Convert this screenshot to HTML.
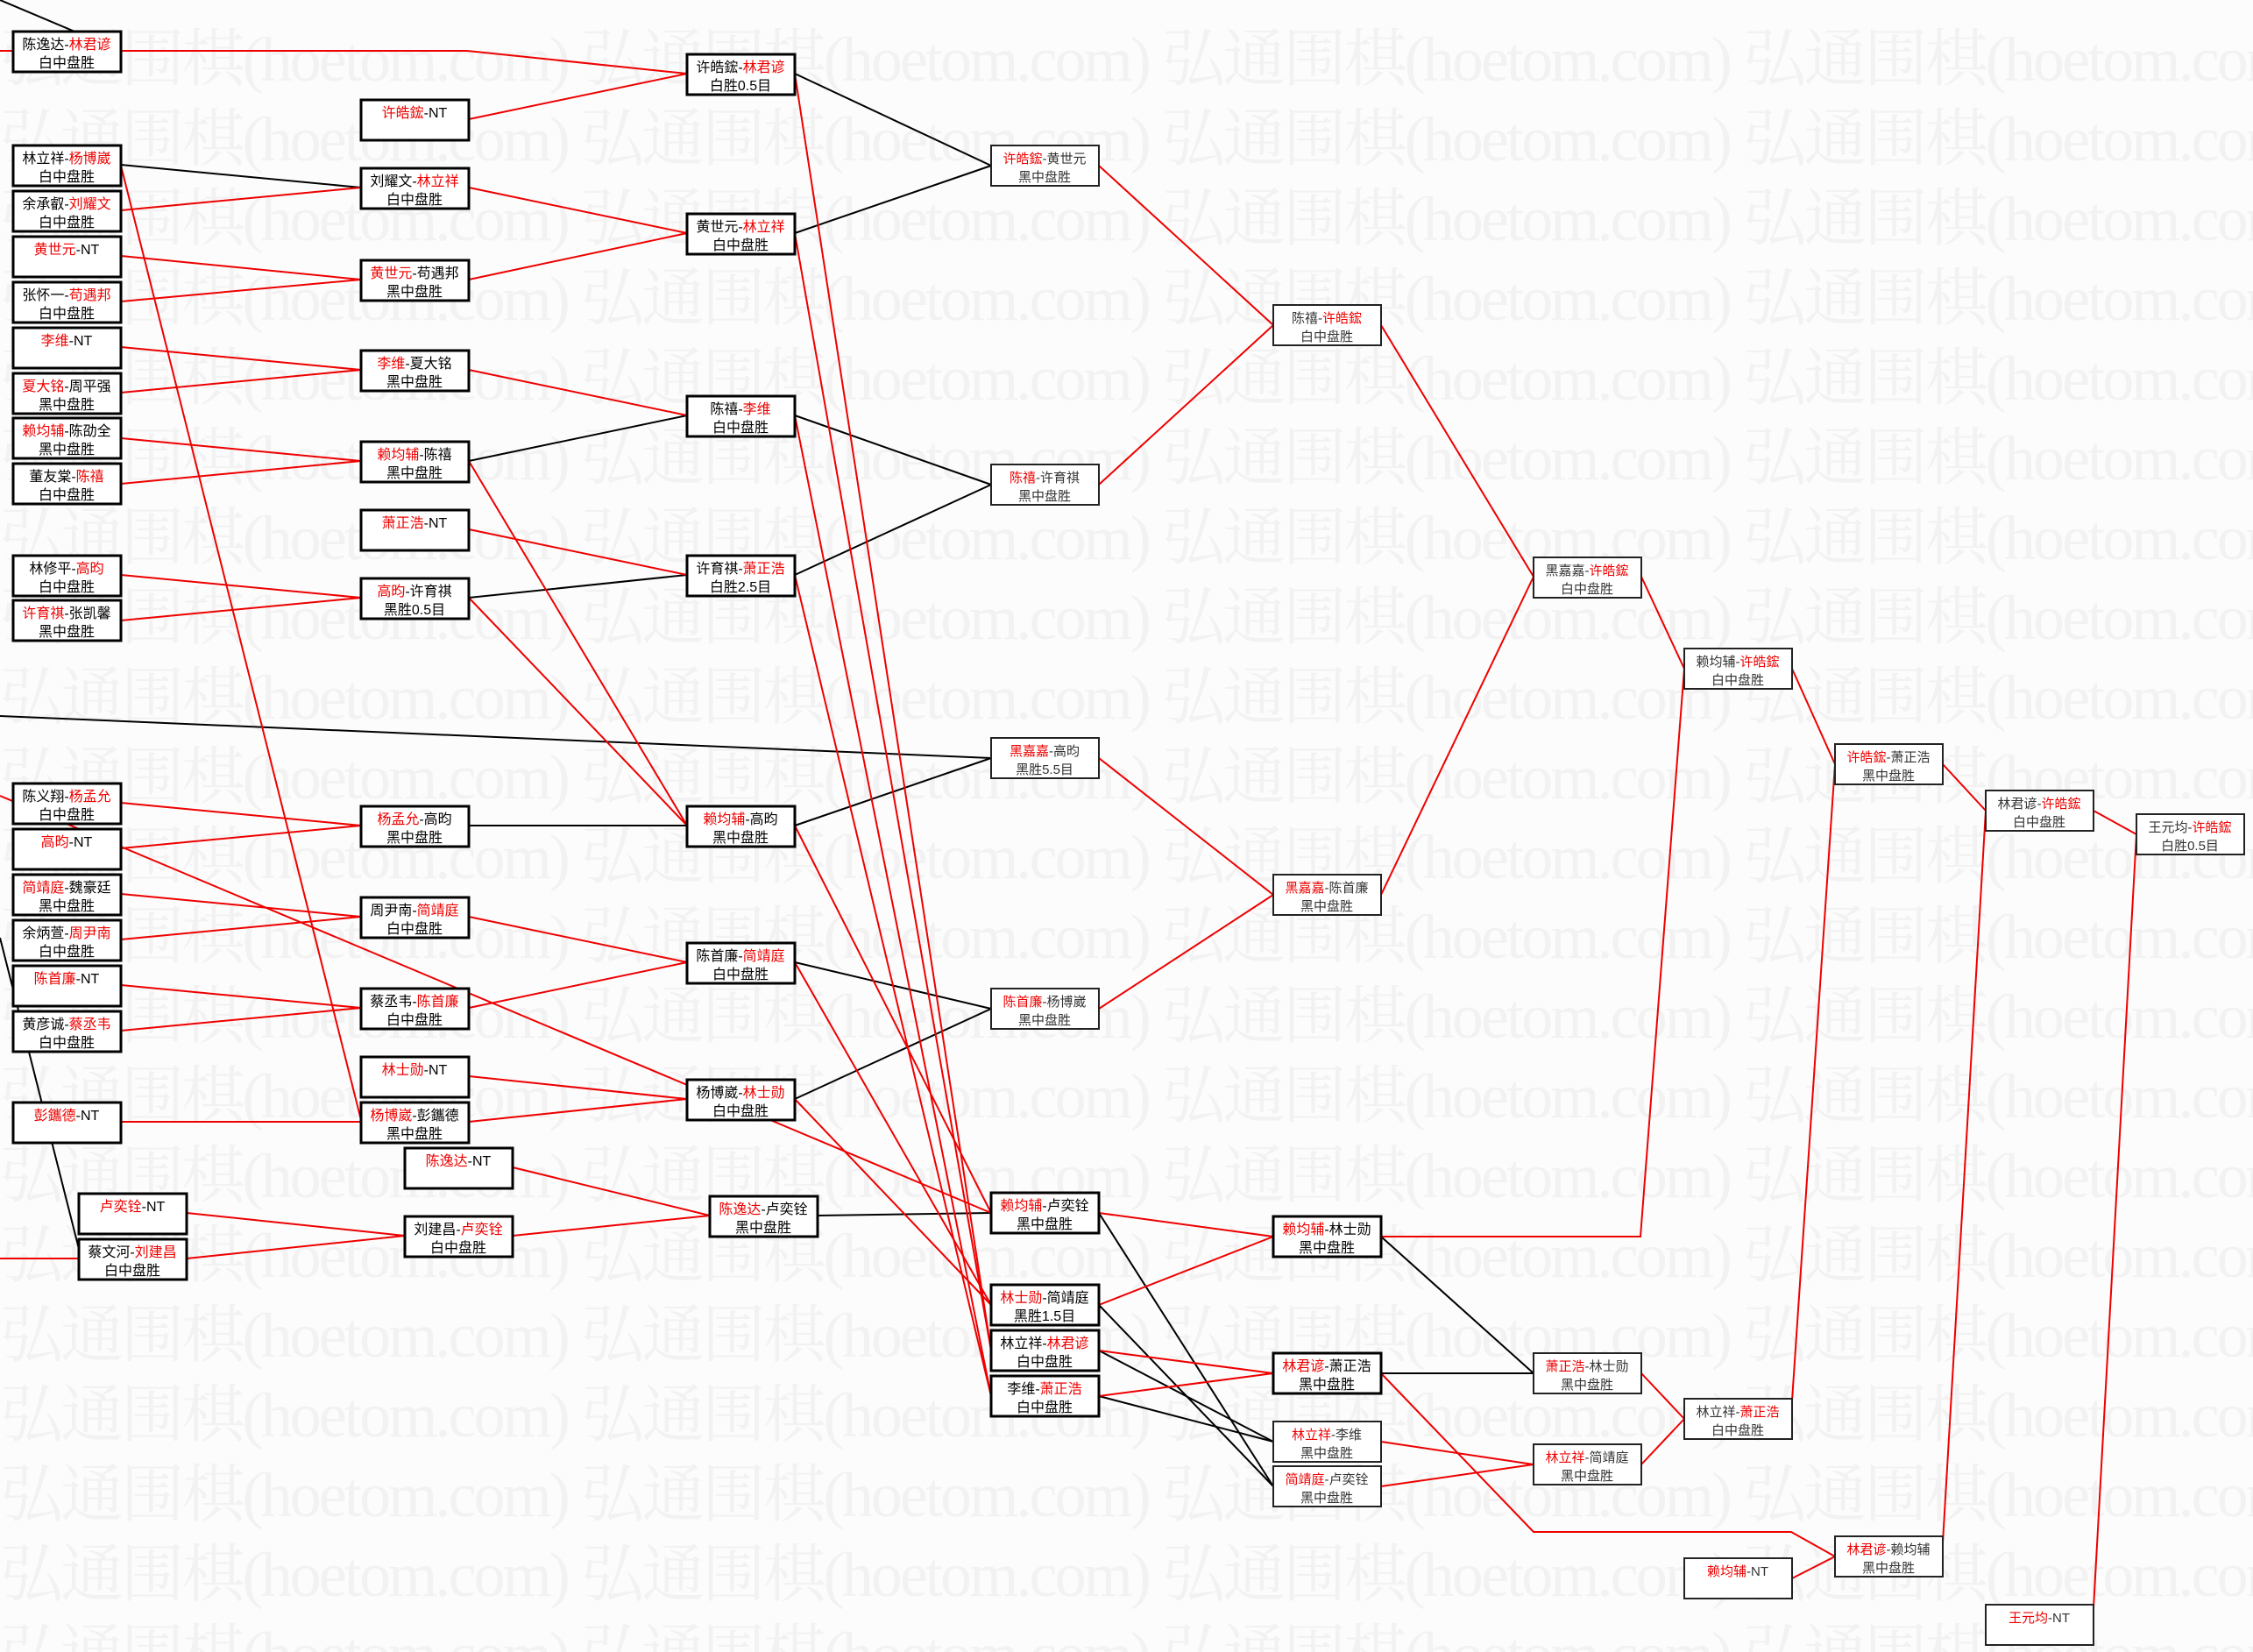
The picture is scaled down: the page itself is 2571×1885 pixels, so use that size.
<!DOCTYPE html>
<html><head><meta charset="utf-8"><style>
html,body{margin:0;padding:0;background:#fcfcfc}
svg{display:block}
.wm{font-family:"Liberation Serif","Noto Serif CJK SC",serif;font-size:72px;fill:#f2f2f2}
.b{fill:#fff;stroke:#000;stroke-width:3}
.t{fill:#fff;stroke:#222;stroke-width:2}
text.l{font-family:"Liberation Sans","Noto Sans CJK SC",sans-serif;font-size:16px;fill:#000;text-anchor:middle}
text.lt{font-family:"Liberation Sans","Noto Sans CJK SC",sans-serif;font-size:15px;fill:#333;text-anchor:middle}
.r{fill:#e00}
.k{stroke:#000;stroke-width:2;fill:none}
.rd{stroke:#e00;stroke-width:2;fill:none}
</style></head><body>
<svg xmlns="http://www.w3.org/2000/svg" width="2571" height="1885" viewBox="0 0 2571 1885">
<rect width="2571" height="1885" fill="#fcfcfc"/>
<g class="wm">
<text x="0" y="92" textLength="2640">弘通围棋(hoetom.com) 弘通围棋(hoetom.com) 弘通围棋(hoetom.com) 弘通围棋(hoetom.com)</text>
<text x="0" y="183" textLength="2640">弘通围棋(hoetom.com) 弘通围棋(hoetom.com) 弘通围棋(hoetom.com) 弘通围棋(hoetom.com)</text>
<text x="0" y="274" textLength="2640">弘通围棋(hoetom.com) 弘通围棋(hoetom.com) 弘通围棋(hoetom.com) 弘通围棋(hoetom.com)</text>
<text x="0" y="365" textLength="2640">弘通围棋(hoetom.com) 弘通围棋(hoetom.com) 弘通围棋(hoetom.com) 弘通围棋(hoetom.com)</text>
<text x="0" y="456" textLength="2640">弘通围棋(hoetom.com) 弘通围棋(hoetom.com) 弘通围棋(hoetom.com) 弘通围棋(hoetom.com)</text>
<text x="0" y="547" textLength="2640">弘通围棋(hoetom.com) 弘通围棋(hoetom.com) 弘通围棋(hoetom.com) 弘通围棋(hoetom.com)</text>
<text x="0" y="638" textLength="2640">弘通围棋(hoetom.com) 弘通围棋(hoetom.com) 弘通围棋(hoetom.com) 弘通围棋(hoetom.com)</text>
<text x="0" y="729" textLength="2640">弘通围棋(hoetom.com) 弘通围棋(hoetom.com) 弘通围棋(hoetom.com) 弘通围棋(hoetom.com)</text>
<text x="0" y="820" textLength="2640">弘通围棋(hoetom.com) 弘通围棋(hoetom.com) 弘通围棋(hoetom.com) 弘通围棋(hoetom.com)</text>
<text x="0" y="911" textLength="2640">弘通围棋(hoetom.com) 弘通围棋(hoetom.com) 弘通围棋(hoetom.com) 弘通围棋(hoetom.com)</text>
<text x="0" y="1002" textLength="2640">弘通围棋(hoetom.com) 弘通围棋(hoetom.com) 弘通围棋(hoetom.com) 弘通围棋(hoetom.com)</text>
<text x="0" y="1093" textLength="2640">弘通围棋(hoetom.com) 弘通围棋(hoetom.com) 弘通围棋(hoetom.com) 弘通围棋(hoetom.com)</text>
<text x="0" y="1184" textLength="2640">弘通围棋(hoetom.com) 弘通围棋(hoetom.com) 弘通围棋(hoetom.com) 弘通围棋(hoetom.com)</text>
<text x="0" y="1275" textLength="2640">弘通围棋(hoetom.com) 弘通围棋(hoetom.com) 弘通围棋(hoetom.com) 弘通围棋(hoetom.com)</text>
<text x="0" y="1366" textLength="2640">弘通围棋(hoetom.com) 弘通围棋(hoetom.com) 弘通围棋(hoetom.com) 弘通围棋(hoetom.com)</text>
<text x="0" y="1457" textLength="2640">弘通围棋(hoetom.com) 弘通围棋(hoetom.com) 弘通围棋(hoetom.com) 弘通围棋(hoetom.com)</text>
<text x="0" y="1548" textLength="2640">弘通围棋(hoetom.com) 弘通围棋(hoetom.com) 弘通围棋(hoetom.com) 弘通围棋(hoetom.com)</text>
<text x="0" y="1639" textLength="2640">弘通围棋(hoetom.com) 弘通围棋(hoetom.com) 弘通围棋(hoetom.com) 弘通围棋(hoetom.com)</text>
<text x="0" y="1730" textLength="2640">弘通围棋(hoetom.com) 弘通围棋(hoetom.com) 弘通围棋(hoetom.com) 弘通围棋(hoetom.com)</text>
<text x="0" y="1821" textLength="2640">弘通围棋(hoetom.com) 弘通围棋(hoetom.com) 弘通围棋(hoetom.com) 弘通围棋(hoetom.com)</text>
<text x="0" y="1912" textLength="2640">弘通围棋(hoetom.com) 弘通围棋(hoetom.com) 弘通围棋(hoetom.com) 弘通围棋(hoetom.com)</text>
</g>

<g class="k">
<line x1="0" y1="0" x2="135" y2="57"/>
<line x1="0" y1="1070" x2="90" y2="1425"/>
<line x1="0" y1="817" x2="1131" y2="865"/>
<line x1="138" y1="188" x2="412" y2="214"/>
<line x1="535" y1="526" x2="784" y2="474"/>
<line x1="535" y1="682" x2="784" y2="656"/>
<line x1="535" y1="942" x2="784" y2="942"/>
<line x1="907" y1="84" x2="1131" y2="189"/>
<line x1="907" y1="266" x2="1131" y2="189"/>
<line x1="907" y1="474" x2="1131" y2="553"/>
<line x1="907" y1="656" x2="1131" y2="553"/>
<line x1="907" y1="942" x2="1131" y2="865"/>
<line x1="907" y1="1098" x2="1131" y2="1151"/>
<line x1="907" y1="1254" x2="1131" y2="1151"/>
<line x1="933" y1="1387" x2="1131" y2="1384"/>
<line x1="1254" y1="1541" x2="1453" y2="1645"/>
<line x1="1254" y1="1593" x2="1453" y2="1645"/>
<line x1="1254" y1="1384" x2="1453" y2="1696"/>
<line x1="1254" y1="1489" x2="1453" y2="1696"/>
<line x1="1576" y1="1411" x2="1750" y2="1567"/>
<line x1="1576" y1="1567" x2="1750" y2="1567"/>
</g>
<g class="rd">
<line x1="0" y1="58" x2="15" y2="58"/>
<line x1="0" y1="1436" x2="90" y2="1436"/>
<polyline points="138,58 533,58 784,84"/>
<line x1="535" y1="136" x2="784" y2="84"/>
<line x1="138" y1="189" x2="412" y2="1278"/>
<line x1="138" y1="240" x2="412" y2="214"/>
<line x1="535" y1="214" x2="784" y2="266"/>
<line x1="138" y1="292" x2="412" y2="319"/>
<line x1="138" y1="344" x2="412" y2="319"/>
<line x1="535" y1="319" x2="784" y2="266"/>
<line x1="138" y1="396" x2="412" y2="422"/>
<line x1="138" y1="448" x2="412" y2="422"/>
<line x1="535" y1="422" x2="784" y2="474"/>
<line x1="138" y1="500" x2="412" y2="526"/>
<line x1="138" y1="552" x2="412" y2="526"/>
<line x1="535" y1="526" x2="784" y2="942"/>
<line x1="535" y1="604" x2="784" y2="656"/>
<line x1="138" y1="656" x2="412" y2="682"/>
<line x1="138" y1="708" x2="412" y2="682"/>
<line x1="535" y1="682" x2="784" y2="942"/>
<line x1="138" y1="916" x2="412" y2="942"/>
<line x1="138" y1="968" x2="412" y2="942"/>
<line x1="138" y1="1020" x2="412" y2="1046"/>
<line x1="138" y1="1072" x2="412" y2="1046"/>
<line x1="535" y1="1046" x2="784" y2="1098"/>
<line x1="138" y1="1124" x2="412" y2="1150"/>
<line x1="138" y1="1176" x2="412" y2="1150"/>
<line x1="535" y1="1150" x2="784" y2="1098"/>
<line x1="535" y1="1228" x2="784" y2="1254"/>
<line x1="138" y1="1280" x2="412" y2="1280"/>
<line x1="535" y1="1280" x2="784" y2="1254"/>
<line x1="585" y1="1332" x2="810" y2="1387"/>
<line x1="213" y1="1384" x2="462" y2="1410"/>
<line x1="213" y1="1436" x2="462" y2="1410"/>
<line x1="585" y1="1410" x2="810" y2="1387"/>
<line x1="0" y1="908" x2="1131" y2="1384"/>
<line x1="907" y1="84" x2="1131" y2="1541"/>
<line x1="907" y1="266" x2="1131" y2="1541"/>
<line x1="907" y1="474" x2="1131" y2="1593"/>
<line x1="907" y1="656" x2="1131" y2="1593"/>
<line x1="907" y1="942" x2="1131" y2="1384"/>
<line x1="907" y1="1098" x2="1131" y2="1489"/>
<line x1="907" y1="1254" x2="1131" y2="1489"/>
<line x1="1254" y1="189" x2="1453" y2="371"/>
<line x1="1254" y1="553" x2="1453" y2="371"/>
<line x1="1254" y1="865" x2="1453" y2="1021"/>
<line x1="1254" y1="1151" x2="1453" y2="1021"/>
<line x1="1254" y1="1384" x2="1453" y2="1411"/>
<line x1="1254" y1="1489" x2="1453" y2="1411"/>
<line x1="1254" y1="1541" x2="1453" y2="1567"/>
<line x1="1254" y1="1593" x2="1453" y2="1567"/>
<line x1="1576" y1="371" x2="1750" y2="658"/>
<line x1="1576" y1="1021" x2="1750" y2="658"/>
<line x1="1873" y1="658" x2="1922" y2="763"/>
<polyline points="1576,1411 1872,1411 1922,763"/>
<line x1="2045" y1="763" x2="2094" y2="872"/>
<line x1="2045" y1="1598" x2="2094" y2="872"/>
<line x1="2217" y1="872" x2="2266" y2="925"/>
<line x1="2217" y1="1760" x2="2266" y2="925"/>
<line x1="2389" y1="925" x2="2438" y2="952"/>
<line x1="2389" y1="1835" x2="2438" y2="952"/>
<line x1="1576" y1="1645" x2="1750" y2="1671"/>
<line x1="1576" y1="1696" x2="1750" y2="1671"/>
<line x1="1873" y1="1567" x2="1922" y2="1619"/>
<line x1="1873" y1="1671" x2="1922" y2="1619"/>
<polyline points="1576,1567 1750,1748 2044,1748 2094,1776"/>
<line x1="2045" y1="1801" x2="2094" y2="1776"/>
</g>

<g>
<rect class="b" x="15" y="36" width="123" height="46"/><text class="l" x="76" y="56">陈逸达-<tspan class="r">林君谚</tspan></text><text class="l" x="76" y="77">白中盘胜</text>
<rect class="b" x="15" y="166" width="123" height="46"/><text class="l" x="76" y="186">林立祥-<tspan class="r">杨博崴</tspan></text><text class="l" x="76" y="207">白中盘胜</text>
<rect class="b" x="15" y="218" width="123" height="46"/><text class="l" x="76" y="238">余承叡-<tspan class="r">刘耀文</tspan></text><text class="l" x="76" y="259">白中盘胜</text>
<rect class="b" x="15" y="270" width="123" height="46"/><text class="l" x="76" y="290"><tspan class="r">黄世元</tspan>-NT</text>
<rect class="b" x="15" y="322" width="123" height="46"/><text class="l" x="76" y="342">张怀一-<tspan class="r">苟遇邦</tspan></text><text class="l" x="76" y="363">白中盘胜</text>
<rect class="b" x="15" y="374" width="123" height="46"/><text class="l" x="76" y="394"><tspan class="r">李维</tspan>-NT</text>
<rect class="b" x="15" y="426" width="123" height="46"/><text class="l" x="76" y="446"><tspan class="r">夏大铭</tspan>-周平强</text><text class="l" x="76" y="467">黑中盘胜</text>
<rect class="b" x="15" y="477" width="123" height="46"/><text class="l" x="76" y="497"><tspan class="r">赖均辅</tspan>-陈劭全</text><text class="l" x="76" y="518">黑中盘胜</text>
<rect class="b" x="15" y="529" width="123" height="46"/><text class="l" x="76" y="549">董友棠-<tspan class="r">陈禧</tspan></text><text class="l" x="76" y="570">白中盘胜</text>
<rect class="b" x="15" y="634" width="123" height="46"/><text class="l" x="76" y="654">林修平-<tspan class="r">高昀</tspan></text><text class="l" x="76" y="675">白中盘胜</text>
<rect class="b" x="15" y="685" width="123" height="46"/><text class="l" x="76" y="705"><tspan class="r">许育祺</tspan>-张凯馨</text><text class="l" x="76" y="726">黑中盘胜</text>
<rect class="b" x="15" y="894" width="123" height="46"/><text class="l" x="76" y="914">陈义翔-<tspan class="r">杨孟允</tspan></text><text class="l" x="76" y="935">白中盘胜</text>
<rect class="b" x="15" y="946" width="123" height="46"/><text class="l" x="76" y="966"><tspan class="r">高昀</tspan>-NT</text>
<rect class="b" x="15" y="998" width="123" height="46"/><text class="l" x="76" y="1018"><tspan class="r">简靖庭</tspan>-魏豪廷</text><text class="l" x="76" y="1039">黑中盘胜</text>
<rect class="b" x="15" y="1050" width="123" height="46"/><text class="l" x="76" y="1070">余炳萱-<tspan class="r">周尹南</tspan></text><text class="l" x="76" y="1091">白中盘胜</text>
<rect class="b" x="15" y="1102" width="123" height="46"/><text class="l" x="76" y="1122"><tspan class="r">陈首廉</tspan>-NT</text>
<rect class="b" x="15" y="1154" width="123" height="46"/><text class="l" x="76" y="1174">黄彦诚-<tspan class="r">蔡丞韦</tspan></text><text class="l" x="76" y="1195">白中盘胜</text>
<rect class="b" x="15" y="1258" width="123" height="46"/><text class="l" x="76" y="1278"><tspan class="r">彭鑴德</tspan>-NT</text>
<rect class="b" x="90" y="1362" width="123" height="46"/><text class="l" x="151" y="1382"><tspan class="r">卢奕铨</tspan>-NT</text>
<rect class="b" x="90" y="1414" width="123" height="46"/><text class="l" x="151" y="1434">蔡文河-<tspan class="r">刘建昌</tspan></text><text class="l" x="151" y="1455">白中盘胜</text>
</g>
<g>
<rect class="b" x="412" y="114" width="123" height="46"/><text class="l" x="473" y="134"><tspan class="r">许皓鋐</tspan>-NT</text>
<rect class="b" x="412" y="192" width="123" height="46"/><text class="l" x="473" y="212">刘耀文-<tspan class="r">林立祥</tspan></text><text class="l" x="473" y="233">白中盘胜</text>
<rect class="b" x="412" y="297" width="123" height="46"/><text class="l" x="473" y="317"><tspan class="r">黄世元</tspan>-苟遇邦</text><text class="l" x="473" y="338">黑中盘胜</text>
<rect class="b" x="412" y="400" width="123" height="46"/><text class="l" x="473" y="420"><tspan class="r">李维</tspan>-夏大铭</text><text class="l" x="473" y="441">黑中盘胜</text>
<rect class="b" x="412" y="504" width="123" height="46"/><text class="l" x="473" y="524"><tspan class="r">赖均辅</tspan>-陈禧</text><text class="l" x="473" y="545">黑中盘胜</text>
<rect class="b" x="412" y="582" width="123" height="46"/><text class="l" x="473" y="602"><tspan class="r">萧正浩</tspan>-NT</text>
<rect class="b" x="412" y="660" width="123" height="46"/><text class="l" x="473" y="680"><tspan class="r">高昀</tspan>-许育祺</text><text class="l" x="473" y="701">黑胜0.5目</text>
<rect class="b" x="412" y="920" width="123" height="46"/><text class="l" x="473" y="940"><tspan class="r">杨孟允</tspan>-高昀</text><text class="l" x="473" y="961">黑中盘胜</text>
<rect class="b" x="412" y="1024" width="123" height="46"/><text class="l" x="473" y="1044">周尹南-<tspan class="r">简靖庭</tspan></text><text class="l" x="473" y="1065">白中盘胜</text>
<rect class="b" x="412" y="1128" width="123" height="46"/><text class="l" x="473" y="1148">蔡丞韦-<tspan class="r">陈首廉</tspan></text><text class="l" x="473" y="1169">白中盘胜</text>
<rect class="b" x="412" y="1206" width="123" height="46"/><text class="l" x="473" y="1226"><tspan class="r">林士勋</tspan>-NT</text>
<rect class="b" x="412" y="1258" width="123" height="46"/><text class="l" x="473" y="1278"><tspan class="r">杨博崴</tspan>-彭鑴德</text><text class="l" x="473" y="1299">黑中盘胜</text>
<rect class="b" x="462" y="1310" width="123" height="46"/><text class="l" x="523" y="1330"><tspan class="r">陈逸达</tspan>-NT</text>
<rect class="b" x="462" y="1388" width="123" height="46"/><text class="l" x="523" y="1408">刘建昌-<tspan class="r">卢奕铨</tspan></text><text class="l" x="523" y="1429">白中盘胜</text>
</g>
<g>
<rect class="b" x="784" y="62" width="123" height="46"/><text class="l" x="845" y="82">许皓鋐-<tspan class="r">林君谚</tspan></text><text class="l" x="845" y="103">白胜0.5目</text>
<rect class="b" x="784" y="244" width="123" height="46"/><text class="l" x="845" y="264">黄世元-<tspan class="r">林立祥</tspan></text><text class="l" x="845" y="285">白中盘胜</text>
<rect class="b" x="784" y="452" width="123" height="46"/><text class="l" x="845" y="472">陈禧-<tspan class="r">李维</tspan></text><text class="l" x="845" y="493">白中盘胜</text>
<rect class="b" x="784" y="634" width="123" height="46"/><text class="l" x="845" y="654">许育祺-<tspan class="r">萧正浩</tspan></text><text class="l" x="845" y="675">白胜2.5目</text>
<rect class="b" x="784" y="920" width="123" height="46"/><text class="l" x="845" y="940"><tspan class="r">赖均辅</tspan>-高昀</text><text class="l" x="845" y="961">黑中盘胜</text>
<rect class="b" x="784" y="1076" width="123" height="46"/><text class="l" x="845" y="1096">陈首廉-<tspan class="r">简靖庭</tspan></text><text class="l" x="845" y="1117">白中盘胜</text>
<rect class="b" x="784" y="1232" width="123" height="46"/><text class="l" x="845" y="1252">杨博崴-<tspan class="r">林士勋</tspan></text><text class="l" x="845" y="1273">白中盘胜</text>
<rect class="b" x="810" y="1365" width="123" height="46"/><text class="l" x="871" y="1385"><tspan class="r">陈逸达</tspan>-卢奕铨</text><text class="l" x="871" y="1406">黑中盘胜</text>
</g>
<g>
<rect class="t" x="1131" y="166" width="123" height="46"/><text class="lt" x="1192" y="186"><tspan class="r">许皓鋐</tspan>-黄世元</text><text class="lt" x="1192" y="207">黑中盘胜</text>
<rect class="t" x="1131" y="530" width="123" height="46"/><text class="lt" x="1192" y="550"><tspan class="r">陈禧</tspan>-许育祺</text><text class="lt" x="1192" y="571">黑中盘胜</text>
<rect class="t" x="1131" y="842" width="123" height="46"/><text class="lt" x="1192" y="862"><tspan class="r">黑嘉嘉</tspan>-高昀</text><text class="lt" x="1192" y="883">黑胜5.5目</text>
<rect class="t" x="1131" y="1128" width="123" height="46"/><text class="lt" x="1192" y="1148"><tspan class="r">陈首廉</tspan>-杨博崴</text><text class="lt" x="1192" y="1169">黑中盘胜</text>
<rect class="b" x="1131" y="1361" width="123" height="46"/><text class="l" x="1192" y="1381"><tspan class="r">赖均辅</tspan>-卢奕铨</text><text class="l" x="1192" y="1402">黑中盘胜</text>
<rect class="b" x="1131" y="1466" width="123" height="46"/><text class="l" x="1192" y="1486"><tspan class="r">林士勋</tspan>-简靖庭</text><text class="l" x="1192" y="1507">黑胜1.5目</text>
<rect class="b" x="1131" y="1518" width="123" height="46"/><text class="l" x="1192" y="1538">林立祥-<tspan class="r">林君谚</tspan></text><text class="l" x="1192" y="1559">白中盘胜</text>
<rect class="b" x="1131" y="1570" width="123" height="46"/><text class="l" x="1192" y="1590">李维-<tspan class="r">萧正浩</tspan></text><text class="l" x="1192" y="1611">白中盘胜</text>
</g>
<g>
<rect class="t" x="1453" y="348" width="123" height="46"/><text class="lt" x="1514" y="368">陈禧-<tspan class="r">许皓鋐</tspan></text><text class="lt" x="1514" y="389">白中盘胜</text>
<rect class="t" x="1453" y="998" width="123" height="46"/><text class="lt" x="1514" y="1018"><tspan class="r">黑嘉嘉</tspan>-陈首廉</text><text class="lt" x="1514" y="1039">黑中盘胜</text>
<rect class="b" x="1453" y="1388" width="123" height="46"/><text class="l" x="1514" y="1408"><tspan class="r">赖均辅</tspan>-林士勋</text><text class="l" x="1514" y="1429">黑中盘胜</text>
<rect class="b" x="1453" y="1544" width="123" height="46"/><text class="l" x="1514" y="1564"><tspan class="r">林君谚</tspan>-萧正浩</text><text class="l" x="1514" y="1585">黑中盘胜</text>
<rect class="t" x="1453" y="1622" width="123" height="46"/><text class="lt" x="1514" y="1642"><tspan class="r">林立祥</tspan>-李维</text><text class="lt" x="1514" y="1663">黑中盘胜</text>
<rect class="t" x="1453" y="1673" width="123" height="46"/><text class="lt" x="1514" y="1693"><tspan class="r">简靖庭</tspan>-卢奕铨</text><text class="lt" x="1514" y="1714">黑中盘胜</text>
</g>
<g>
<rect class="t" x="1750" y="636" width="123" height="46"/><text class="lt" x="1811" y="656">黑嘉嘉-<tspan class="r">许皓鋐</tspan></text><text class="lt" x="1811" y="677">白中盘胜</text>
<rect class="t" x="1750" y="1544" width="123" height="46"/><text class="lt" x="1811" y="1564"><tspan class="r">萧正浩</tspan>-林士勋</text><text class="lt" x="1811" y="1585">黑中盘胜</text>
<rect class="t" x="1750" y="1648" width="123" height="46"/><text class="lt" x="1811" y="1668"><tspan class="r">林立祥</tspan>-简靖庭</text><text class="lt" x="1811" y="1689">黑中盘胜</text>
<rect class="t" x="1922" y="740" width="123" height="46"/><text class="lt" x="1983" y="760">赖均辅-<tspan class="r">许皓鋐</tspan></text><text class="lt" x="1983" y="781">白中盘胜</text>
<rect class="t" x="1922" y="1596" width="123" height="46"/><text class="lt" x="1983" y="1616">林立祥-<tspan class="r">萧正浩</tspan></text><text class="lt" x="1983" y="1637">白中盘胜</text>
<rect class="t" x="1922" y="1778" width="123" height="46"/><text class="lt" x="1983" y="1798"><tspan class="r">赖均辅</tspan>-NT</text>
<rect class="t" x="2094" y="849" width="123" height="46"/><text class="lt" x="2155" y="869"><tspan class="r">许皓鋐</tspan>-萧正浩</text><text class="lt" x="2155" y="890">黑中盘胜</text>
<rect class="t" x="2094" y="1753" width="123" height="46"/><text class="lt" x="2155" y="1773"><tspan class="r">林君谚</tspan>-赖均辅</text><text class="lt" x="2155" y="1794">黑中盘胜</text>
<rect class="t" x="2266" y="902" width="123" height="46"/><text class="lt" x="2327" y="922">林君谚-<tspan class="r">许皓鋐</tspan></text><text class="lt" x="2327" y="943">白中盘胜</text>
<rect class="t" x="2266" y="1831" width="123" height="46"/><text class="lt" x="2327" y="1851"><tspan class="r">王元均</tspan>-NT</text>
<rect class="t" x="2438" y="929" width="123" height="46"/><text class="lt" x="2499" y="949">王元均-<tspan class="r">许皓鋐</tspan></text><text class="lt" x="2499" y="970">白胜0.5目</text>
</g>
</svg>
</body></html>
